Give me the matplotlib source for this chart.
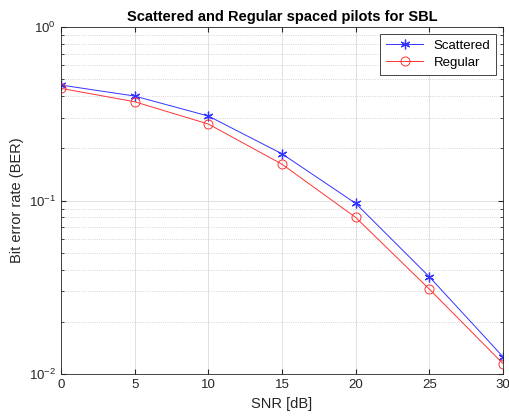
import numpy as np
import matplotlib.pyplot as plt

plt.rcParams['font.family'] = ['Liberation Sans', 'DejaVu Sans']
plt.rcParams['mathtext.fontset'] = 'custom'
plt.rcParams['mathtext.rm'] = 'Liberation Sans'

snr = [0, 5, 10, 15, 20, 25, 30]
ber_scattered = [0.463, 0.400, 0.307, 0.186, 0.0964, 0.0364, 0.0126]
ber_regular = [0.443, 0.371, 0.276, 0.162, 0.080, 0.0309, 0.0115]

fig = plt.figure(figsize=(5.10, 4.19), dpi=100)
ax = fig.add_axes([0.1196, 0.107, 0.8666, 0.8286])

ax.semilogy(snr, ber_scattered, '-', marker=(6, 2, 0), color='#3333ff',
            lw=0.7, ms=7, mew=0.9, label='Scattered')
ax.semilogy(snr, ber_regular, '-o', color='#ff3333', lw=0.7, ms=6.5,
            mfc='none', mew=0.7, label='Regular')

ax.set_xlim(0, 30)
ax.set_ylim(1e-2, 1)
ax.set_xticks([0, 5, 10, 15, 20, 25, 30])

ax.grid(True, which='major', color='#dcdcdc', lw=0.6)
ax.grid(True, which='minor', color='#c8c8c8', lw=0.6, ls=':')

ax.tick_params(which='both', direction='in', top=True, right=True,
               labelsize=9.5, colors='#262626')
ax.tick_params(which='minor', length=2)
for s in ax.spines.values():
    s.set_color('#262626')
    s.set_linewidth(0.6)

ax.set_xlabel('SNR [dB]', fontsize=10.5, color='#262626')
ax.set_ylabel('Bit error rate (BER)', fontsize=10.5, color='#262626')
ax.set_title('Scattered and Regular spaced pilots for SBL', fontsize=10.5,
             fontweight='bold', pad=4)

leg = ax.legend(loc='upper right', fontsize=9.5, fancybox=False,
                framealpha=1, edgecolor='#262626', handlelength=2.8,
                borderpad=0.45, labelspacing=0.35)
leg.get_frame().set_linewidth(0.6)

fig.savefig('out.png', dpi=100)
